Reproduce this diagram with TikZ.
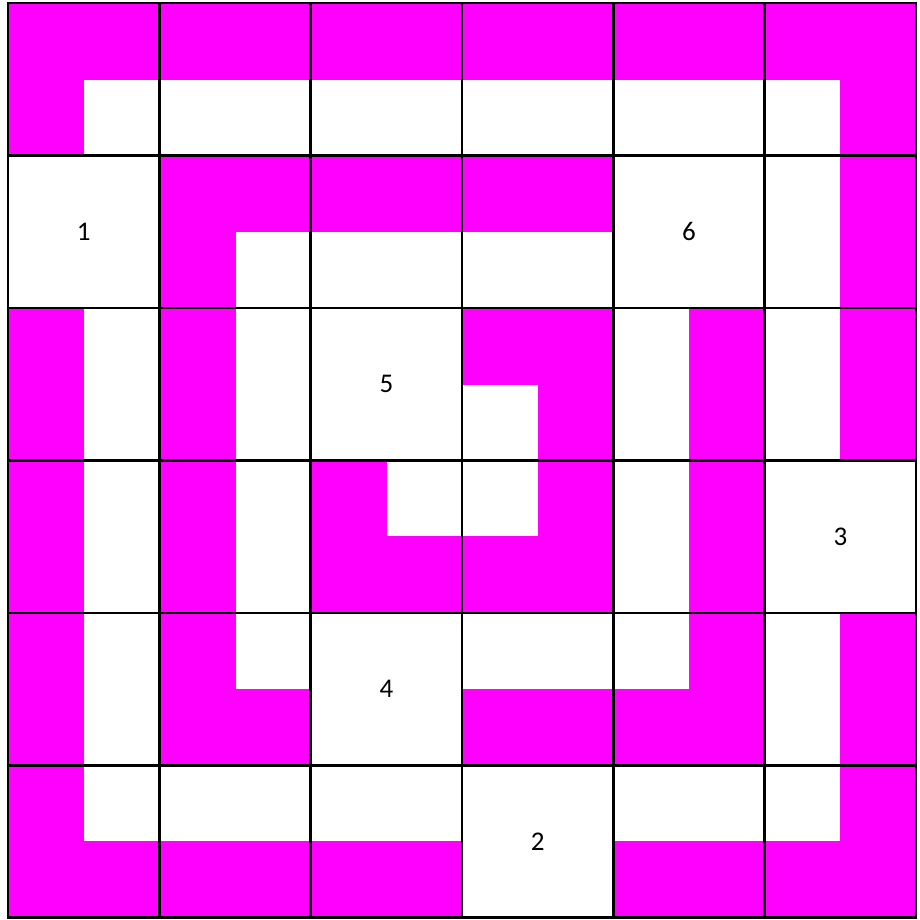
\documentclass[tikz,border=0pt]{standalone}
\usepackage{fontspec}
\setmainfont{Carlito}
\definecolor{mag}{RGB}{255,0,255}
\begin{document}
\begin{tikzpicture}[x=1pt,y=-1pt,
  magfill/.style={fill=mag,draw=mag,line width=0.4pt},
  gridline/.style={draw=black,line width=2.6pt},
  label/.style={font=\fontsize{27}{32}\selectfont,inner sep=0pt}]
\useasboundingbox[fill=white] (0,0) rectangle (919,920);
\begin{scope}[shift={(8,3)},x=75.675pt,y=-76.225pt]
  \foreach \a/\b/\c/\d in {0/0/12/1, 0/0/1/2, 0/4/1/12, 11/0/12/6, 11/8/12/12, 0/11/6/12, 8/11/12/12,
    2/2/8/3, 2/2/3/10, 2/9/4/10, 9/4/10/10, 6/9/10/10,
    6/4/8/5, 7/4/8/8, 4/7/8/8, 4/6/5/8}
    \path[magfill] (\a,\b) rectangle (\c,\d);
  \foreach \i in {0,2,...,12} {
    \draw[gridline] (\i,0) -- (\i,12);
    \draw[gridline] (0,\i) -- (12,\i);
  }
  \draw[gridline,line cap=rect] (0,0) rectangle (12,12);
  \node[label] (n1) at (1,3) {1};
  \node[label] (n6) at (9,3) {6};
  \node[label] (n5) at (5,5) {5};
  \node[label] (n3) at (11,7) {3};
  \node[label] (n4) at (5,9) {4};
  \node[label] (n2) at (7,11) {2};
\end{scope}
\end{tikzpicture}
\end{document}
